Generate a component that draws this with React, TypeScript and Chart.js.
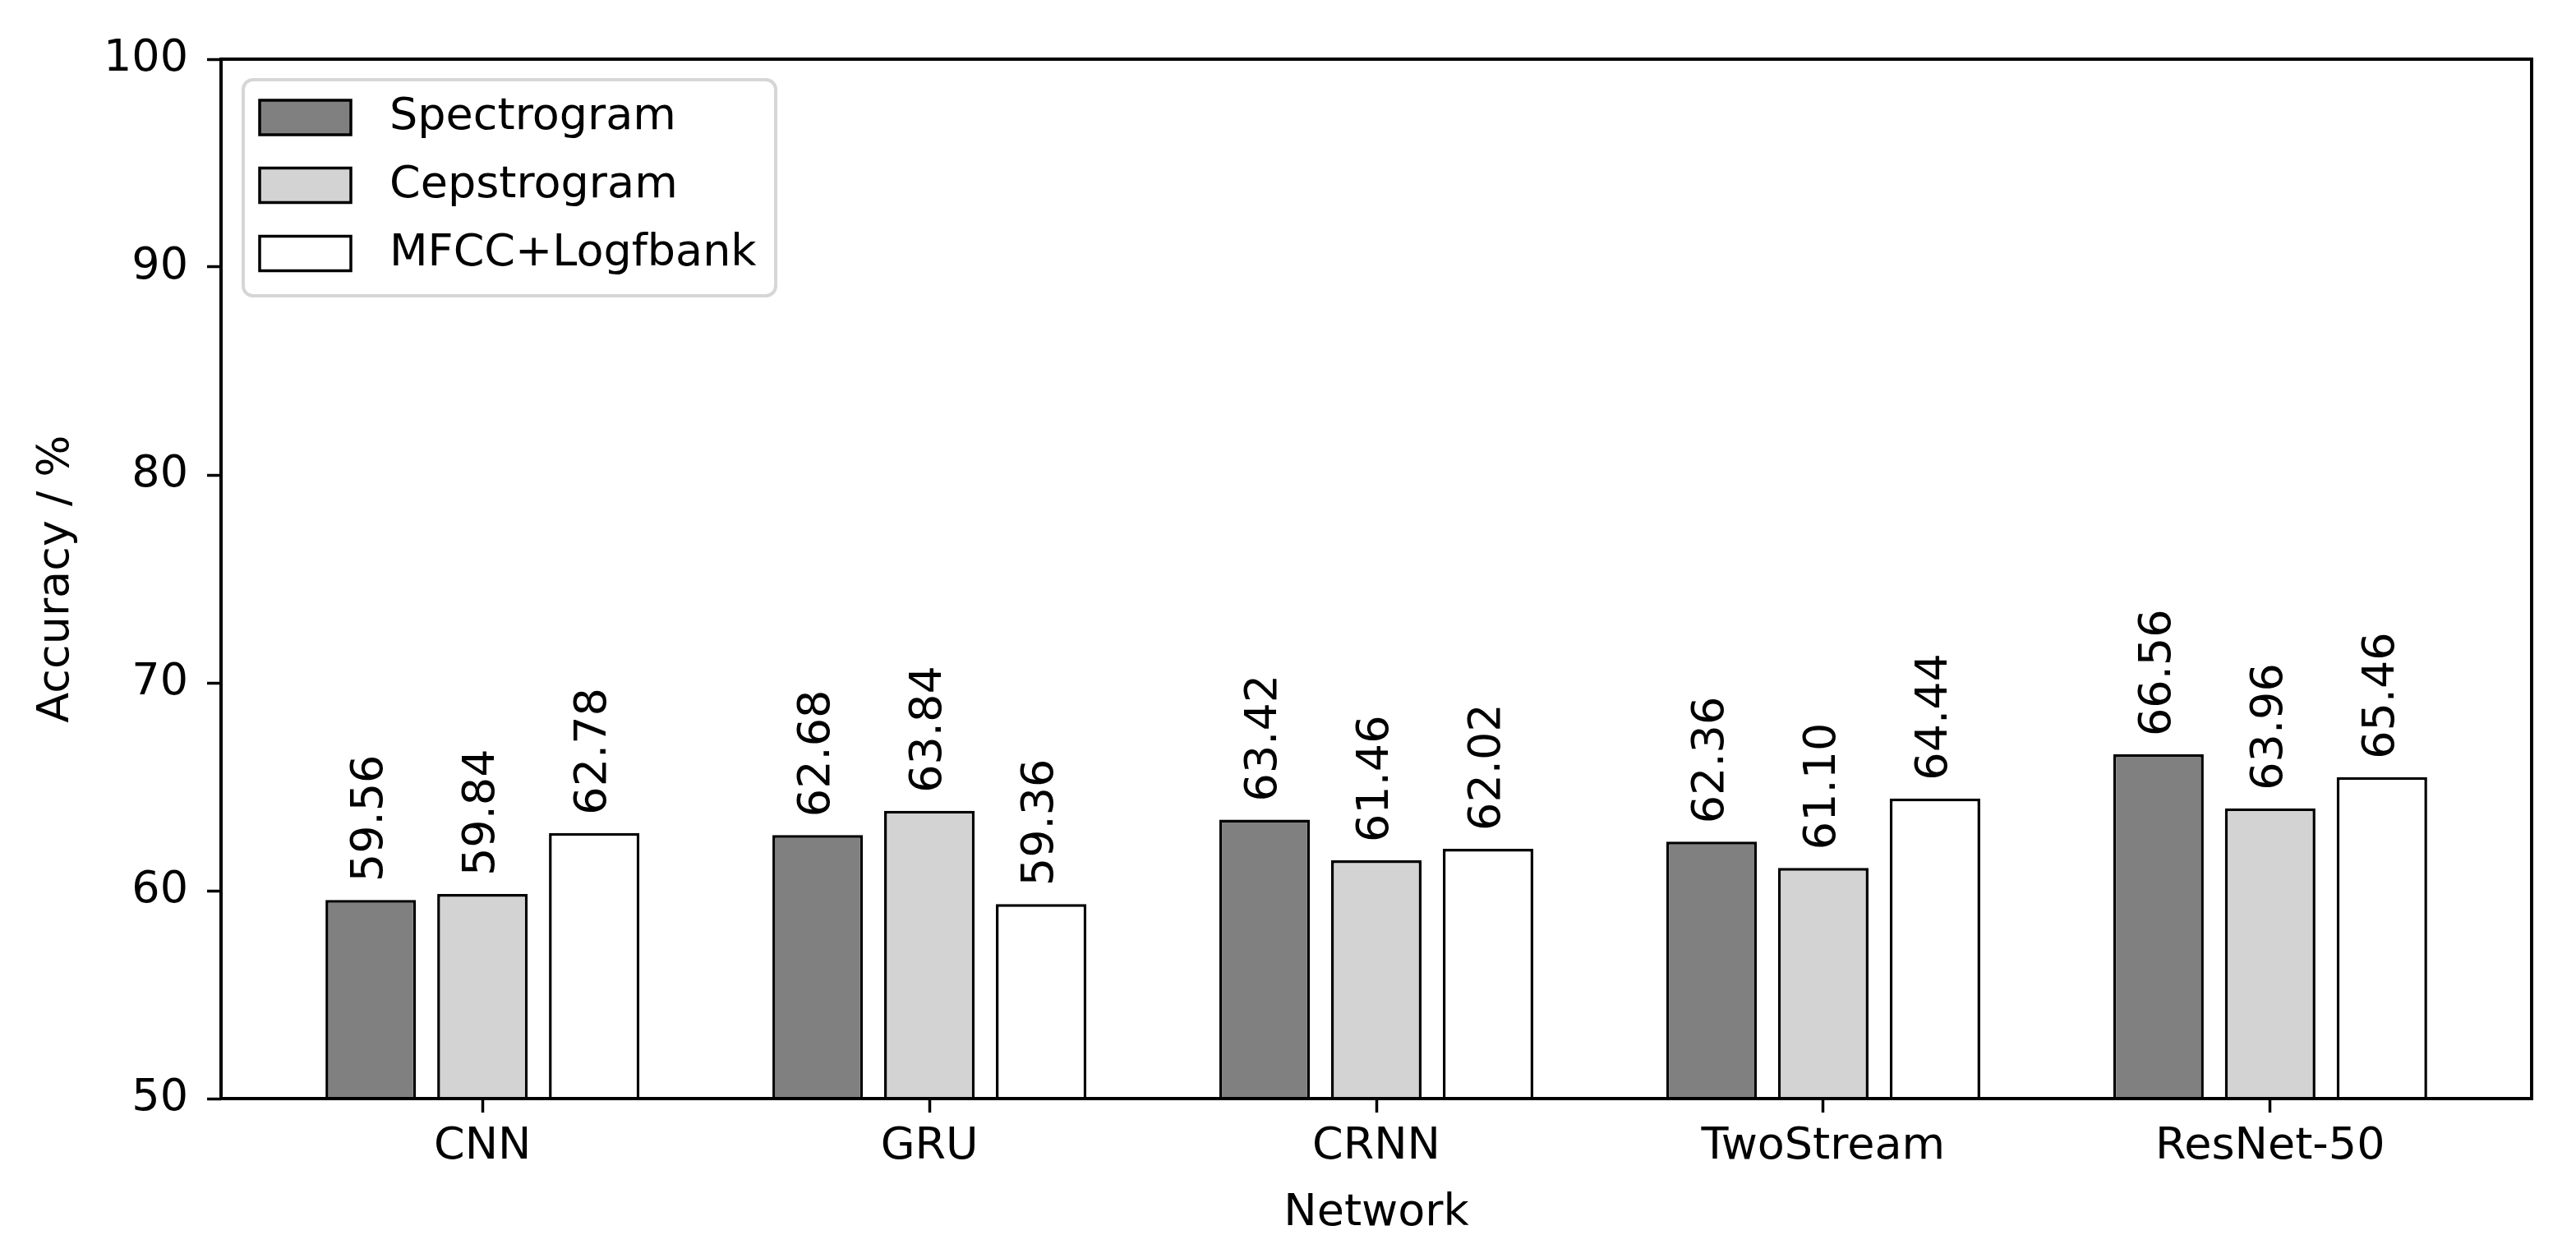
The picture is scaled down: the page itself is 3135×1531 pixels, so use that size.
import React, { useEffect, useRef } from 'react';
import { Chart, registerables } from 'chart.js';

Chart.register(...registerables);

const categories = ['CNN', 'GRU', 'CRNN', 'TwoStream', 'ResNet-50'];
const seriesNames = ['Spectrogram', 'Cepstrogram', 'MFCC+Logfbank'];
const spectrogram = [59.56, 62.68, 63.42, 62.36, 66.56];
const cepstrogram = [59.84, 63.84, 61.46, 61.1, 63.96];
const mfccLogfbank = [62.78, 59.36, 62.02, 64.44, 65.46];
const yTicks = [50, 60, 70, 80, 90, 100];
const seriesColors = ['#808080', '#d3d3d3', '#ffffff'];

const FONT = 'DejaVu Sans';
const FS = 54;

const overlayPlugin = {
  id: 'overlay',
  afterDatasetsDraw(chart: any) {
    const ctx = chart.ctx;
    const ca = chart.chartArea;
    ctx.save();
    // value labels
    ctx.font = `${FS}px "${FONT}"`;
    ctx.fillStyle = '#000';
    ctx.textAlign = 'left';
    ctx.textBaseline = 'middle';
    chart.data.datasets.forEach((ds: any, di: number) => {
      const meta = chart.getDatasetMeta(di);
      meta.data.forEach((bar: any, i: number) => {
        const v = ds.data[i].y;
        ctx.save();
        ctx.translate(bar.x, bar.y - 22);
        ctx.rotate(-Math.PI / 2);
        ctx.fillText(v.toFixed(2), 0, 0);
        ctx.restore();
      });
    });
    // frame
    ctx.strokeStyle = '#000';
    ctx.lineWidth = 4;
    ctx.strokeRect(ca.left, ca.top, ca.right - ca.left, ca.bottom - ca.top);
    // legend
    const lx = 296, ly = 97, lw = 648, lh = 263;
    ctx.beginPath();
    ctx.roundRect(lx, ly, lw, lh, 12);
    ctx.fillStyle = 'rgba(255,255,255,0.8)';
    ctx.fill();
    ctx.strokeStyle = '#d6d6d6';
    ctx.lineWidth = 4;
    ctx.stroke();
    const rowsY = [143, 225.5, 308.5];
    chart.data.datasets.forEach((ds: any, di: number) => {
      const cy = rowsY[di];
      ctx.fillStyle = ds.backgroundColor;
      ctx.fillRect(316, cy - 21, 111, 42);
      ctx.strokeStyle = '#000';
      ctx.lineWidth = 3.5;
      ctx.strokeRect(316, cy - 21, 111, 42);
      ctx.fillStyle = '#000';
      ctx.font = `${FS}px "${FONT}"`;
      ctx.textAlign = 'left';
      ctx.textBaseline = 'middle';
      ctx.fillText(ds.label, 474, cy);
    });
    ctx.restore();
  },
};

export default function App() {
  const ref = useRef<HTMLCanvasElement>(null);
  useEffect(() => {
    if (!ref.current) return;
    const series = [spectrogram, cepstrogram, mfccLogfbank];
    const chart = new Chart(ref.current, {
      type: 'bar',
      data: {
        datasets: series.map((vals, si) => ({
          label: seriesNames[si],
          data: vals.map((v, i) => ({ x: i, y: v })),
          backgroundColor: seriesColors[si],
          borderColor: '#000',
          borderWidth: 3.5,
          categoryPercentage: 0.75,
          barPercentage: 0.81,
        })),
      },
      options: {
        responsive: false,
        animation: false,
        devicePixelRatio: 1,
        layout: { padding: { left: 0, top: 72, right: 54, bottom: 0 } },
        plugins: {
          legend: { display: false },
          tooltip: { enabled: false },
        },
        scales: {
          x: {
            type: 'linear',
            min: -0.585,
            max: 4.585,
            offset: false,
            afterBuildTicks: (scale: any) => {
              scale.ticks = categories.map((_, i) => ({ value: i }));
            },
            afterFit: (scale: any) => {
              scale.height = 194;
            },
            ticks: {
              callback: (value: any) => categories[value] ?? '',
              font: { family: FONT, size: FS },
              color: '#000',
              padding: 10,
              maxRotation: 0,
              autoSkip: false,
            },
            grid: {
              display: true,
              offset: false,
              drawOnChartArea: false,
              drawTicks: true,
              tickLength: 17,
              tickWidth: 3.5,
              tickColor: '#000',
            },
            border: { display: false },
            title: {
              display: true,
              text: 'Network',
              font: { family: FONT, size: FS },
              color: '#000',
              padding: { top: 0, bottom: 22 },
            },
          },
          y: {
            type: 'linear',
            min: 50,
            max: 100,
            afterBuildTicks: (scale: any) => {
              scale.ticks = yTicks.map((v) => ({ value: v }));
            },
            afterFit: (scale: any) => {
              scale.width = 269;
            },
            ticks: {
              font: { family: FONT, size: FS },
              color: '#000',
              padding: 23,
              callback: (value: any) => String(value),
            },
            grid: {
              display: true,
              drawOnChartArea: false,
              drawTicks: true,
              tickLength: 17,
              tickWidth: 3.5,
              tickColor: '#000',
            },
            border: { display: false },
            title: {
              display: true,
              text: 'Accuracy / %',
              font: { family: FONT, size: FS },
              color: '#000',
              padding: { top: 37, bottom: 0 },
            },
          },
        },
      },
      plugins: [overlayPlugin],
    });
    return () => chart.destroy();
  }, []);
  return (
    <div style={{ position: 'fixed', left: 0, top: 0, width: 3135, height: 1531, background: '#fff' }}>
      <canvas ref={ref} width={3135} height={1531} style={{ display: 'block', width: 3135, height: 1531 }} />
    </div>
  );
}
